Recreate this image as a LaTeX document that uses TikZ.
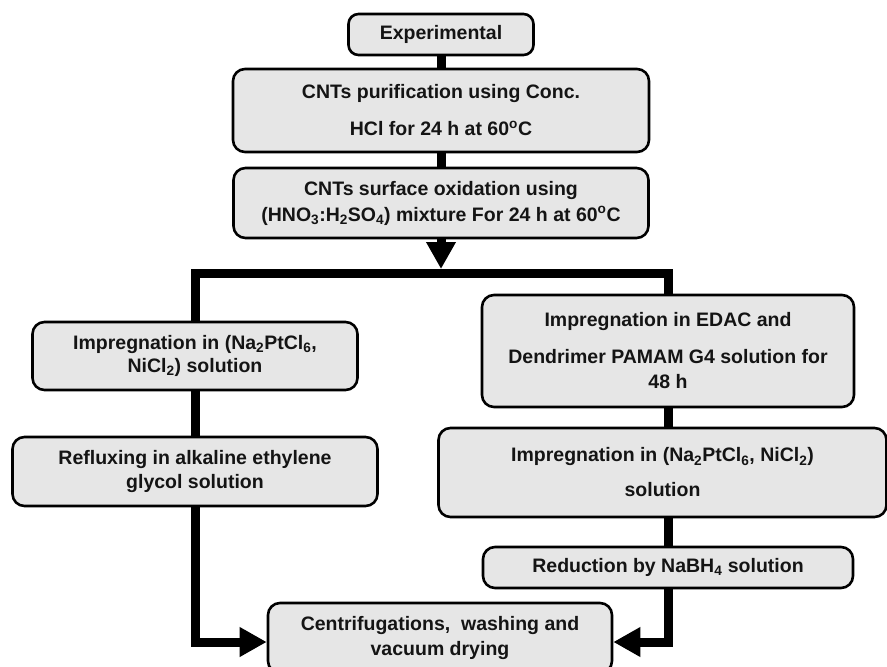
\documentclass[tikz,border=0pt]{standalone}
\usepackage{fontspec}
\setmainfont{Liberation Sans}
\usetikzlibrary{arrows.meta}
\definecolor{boxfill}{HTML}{E6E6E6}
\definecolor{ink}{HTML}{141414}
\begin{document}
\begin{tikzpicture}[x=1pt,y=-1pt,
  stepbox/.style={draw=black, line width=2.6pt, fill=boxfill, rounded corners=12pt,
    align=center, inner sep=0pt, text=ink,
    font=\fontsize{19.5}{24}\selectfont\bfseries},
  conn/.style={line width=9pt, draw=black, line join=miter},
  tip/.style={-{Triangle[length=27pt,width=28pt]}}]
\useasboundingbox (0,0) rectangle (887,667);
\fill[white] (0,0) rectangle (887,667);

\node[stepbox, minimum width=185pt, minimum height=41pt, rounded corners=10pt] (exp) at (441,34.5) {Experimental};
\node[stepbox, minimum width=416pt, minimum height=83pt] (pur) at (441,110.5)
  {CNTs purification using Conc.\\[13pt] HCl for 24 h at 60\textsuperscript{o}C};
\node[stepbox, minimum width=415pt, minimum height=70pt] (oxi) at (441,203)
  {CNTs surface oxidation using\\[2pt] (HNO\textsubscript{3}:H\textsubscript{2}SO\textsubscript{4}) mixture For 24 h at 60\textsuperscript{o}C};

\node[stepbox, minimum width=325pt, minimum height=68pt] (L1) at (195,356)
  {Impregnation in (Na\textsubscript{2}PtCl\textsubscript{6},\\[-1pt] NiCl\textsubscript{2}) solution};
\node[stepbox, minimum width=365pt, minimum height=69pt] (L2) at (195,471.5)
  {Refluxing in alkaline ethylene\\ glycol solution};

\node[stepbox, minimum width=372pt, minimum height=112pt] (R1) at (668,351)
  {Impregnation in EDAC and\\[13pt] Dendrimer PAMAM G4 solution for\\[1pt] 48 h};
\node[stepbox, minimum width=448pt, minimum height=89pt] (R2) at (662.5,472.5)
  {Impregnation in (Na\textsubscript{2}PtCl\textsubscript{6}, NiCl\textsubscript{2})\\[11pt] solution};
\node[stepbox, minimum width=370pt, minimum height=41pt] (R3) at (668,567.5)
  {Reduction by NaBH\textsubscript{4} solution};

\node[stepbox, minimum width=344pt, minimum height=70pt] (fin) at (440,638)
  {Centrifugations,\ \ washing and\\[1pt] vacuum drying};

\coordinate (bt) at (441,269);
\coordinate (bl) at (195,273.5);
\coordinate (br) at (668,273.5);
\coordinate (finL) at ([yshift=-4pt]fin.west);
\coordinate (finR) at ([yshift=-4pt]fin.east);

\draw[conn] (exp.south) -- (pur.north);
\draw[conn] (pur.south) -- (oxi.north);
\draw[conn, tip] (oxi.south) -- (bt);
\draw[conn] (L1.north) -- (L1.north |- bl) -- (R1.north |- br) -- (R1.north);
\draw[conn] (L1.south) -- (L2.north);
\draw[conn, tip] (L2.south) -- (L2.south |- finL) -- (finL);
\draw[conn] (R1.south) -- (R1.south |- R2.north);
\draw[conn] (R3.north |- R2.south) -- (R3.north);
\draw[conn, tip] (R3.south) -- (R3.south |- finR) -- (finR);
\end{tikzpicture}
\end{document}
